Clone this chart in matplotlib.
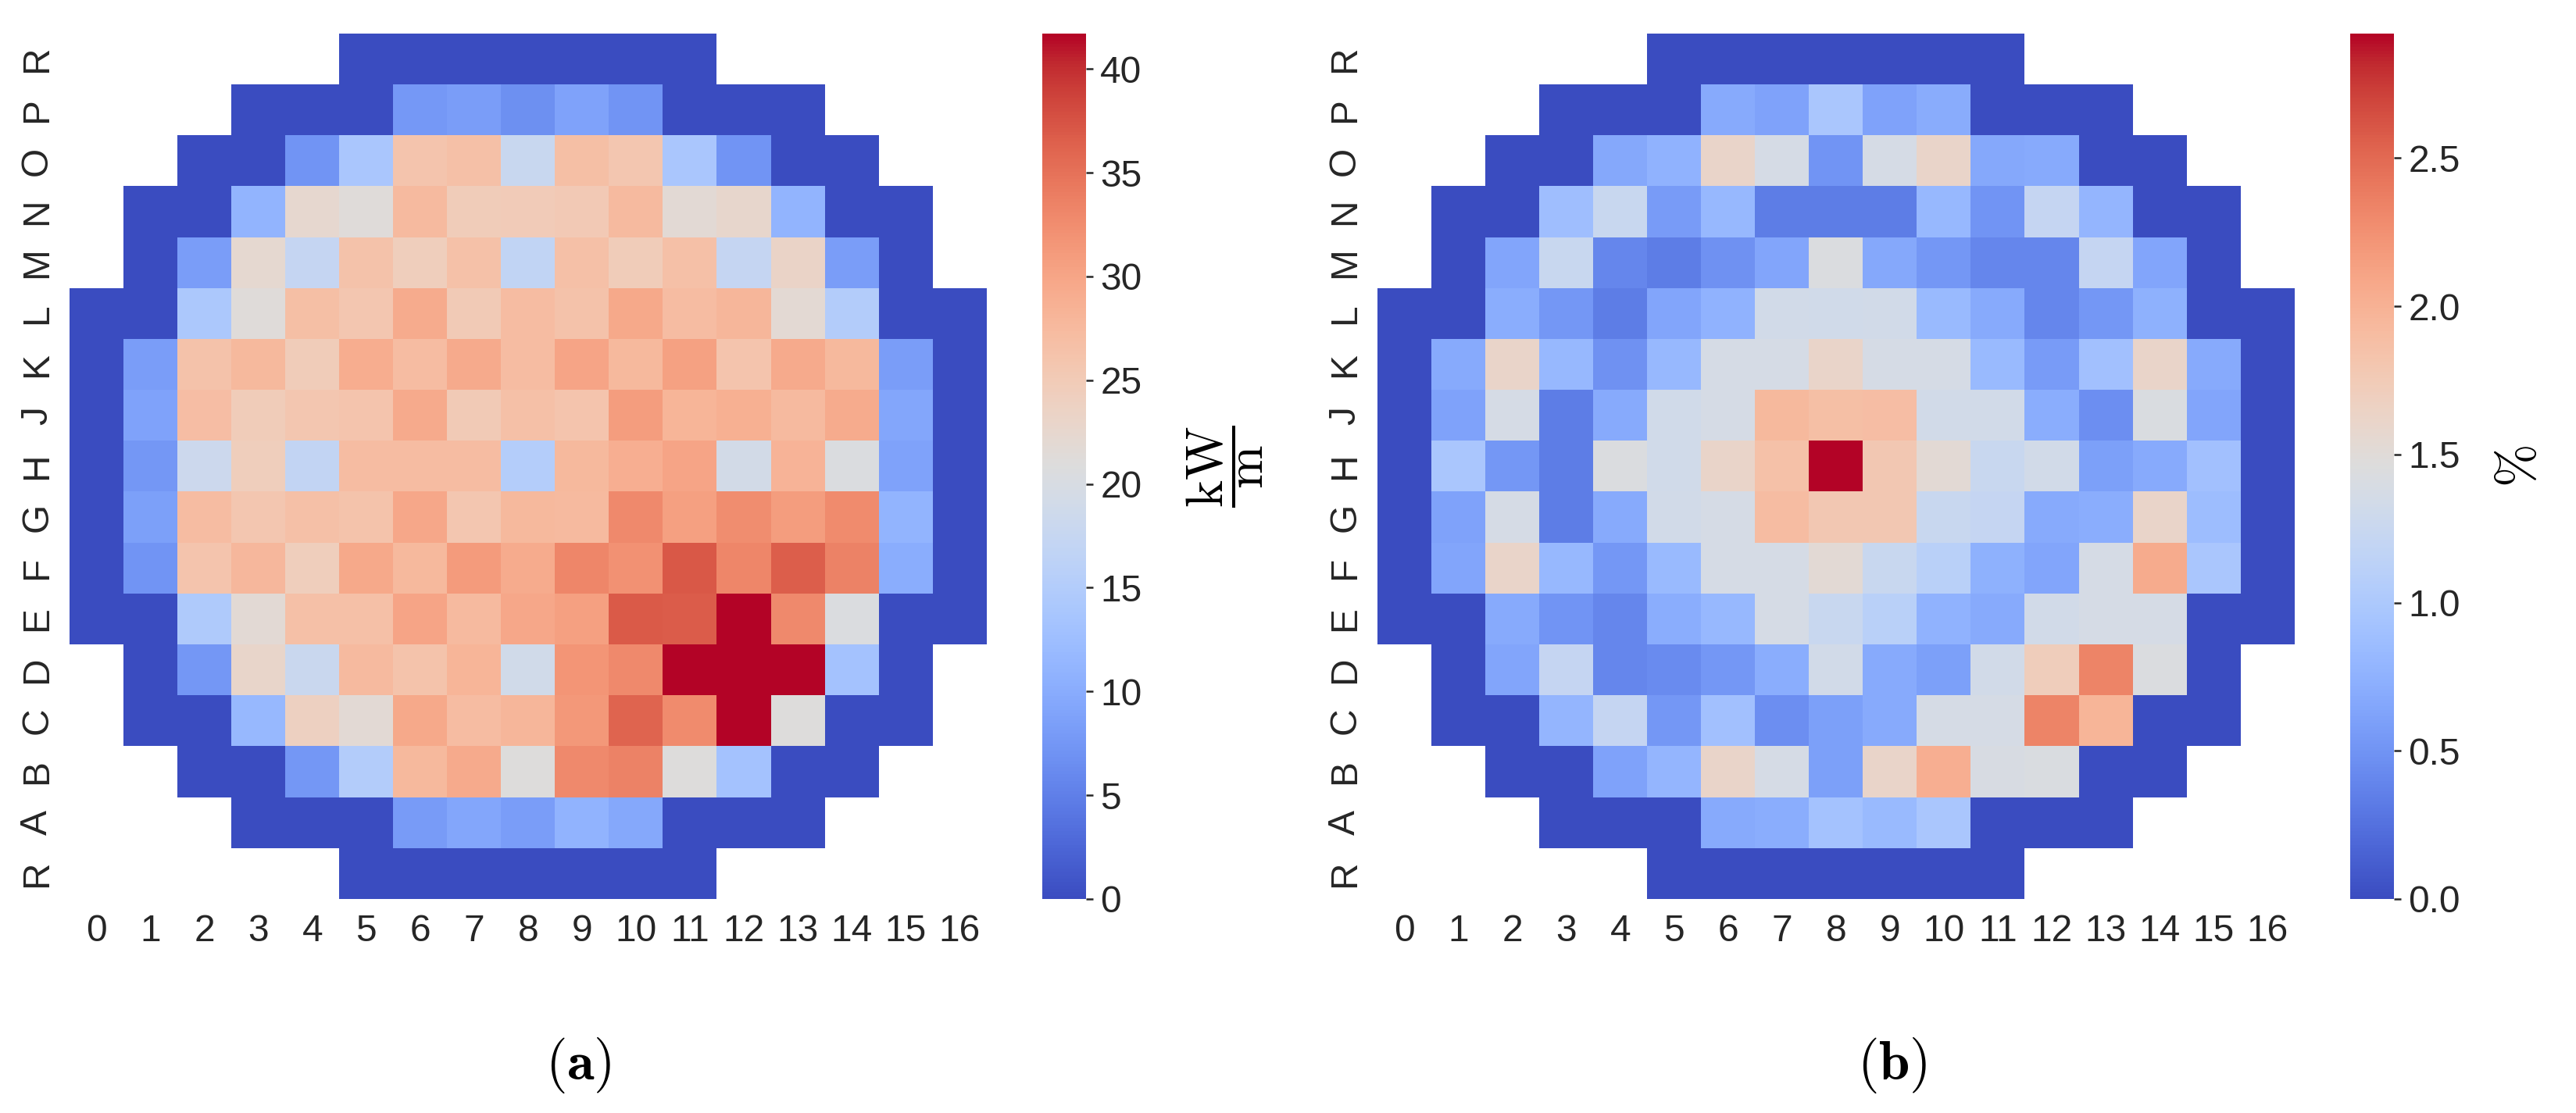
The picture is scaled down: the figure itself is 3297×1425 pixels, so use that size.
import numpy as np
import matplotlib
matplotlib.use("Agg")
import matplotlib.pyplot as plt

plt.rcParams['font.family'] = ['Liberation Sans', 'DejaVu Sans']
plt.rcParams['mathtext.fontset'] = 'cm'

n = np.nan

# assembly labels
col_labels = [str(i) for i in range(17)]
row_labels = ['R', 'P', 'O', 'N', 'M', 'L', 'K', 'J', 'H', 'G', 'F', 'E', 'D', 'C', 'B', 'A', 'R']

# (a) linear power, kW/m
power = [
    [n, n, n, n, n, 0, 0, 0, 0, 0, 0, 0, n, n, n, n, n],
    [n, n, n, 0, 0, 0, 7.8, 8.3, 6.8, 8.8, 7.3, 0, 0, 0, n, n, n],
    [n, n, 0, 0, 7.3, 14.0, 25.9, 26.6, 17.9, 26.8, 25.7, 14.0, 7.3, 0, 0, n, n],
    [n, 0, 0, 11.2, 22.4, 21.3, 27.5, 24.6, 24.8, 25.2, 27.5, 21.7, 22.7, 11.2, 0, 0, n],
    [n, 0, 8.3, 22.2, 17.3, 26.3, 24.3, 26.5, 16.8, 26.6, 24.6, 26.7, 17.3, 23.2, 8.3, 0, n],
    [0, 0, 14.2, 21.3, 26.8, 25.6, 29.3, 25.0, 27.2, 26.3, 29.5, 27.2, 27.9, 21.9, 15.0, 0, 0],
    [0, 8.3, 26.3, 27.6, 24.6, 29.1, 27.2, 29.4, 27.2, 30.1, 27.6, 30.3, 25.9, 29.4, 27.6, 8.3, 0],
    [0, 8.8, 27.0, 24.6, 25.6, 25.9, 29.4, 25.0, 26.7, 25.9, 30.8, 28.1, 28.7, 27.5, 29.3, 9.4, 0],
    [0, 7.6, 18.3, 24.3, 17.1, 27.2, 27.2, 27.2, 15.3, 27.6, 28.9, 30.1, 19.3, 28.2, 20.4, 8.8, 0],
    [0, 8.6, 27.2, 25.6, 26.7, 26.1, 29.7, 25.6, 27.6, 27.5, 32.9, 30.5, 32.5, 30.8, 32.6, 11.2, 0],
    [0, 7.3, 25.9, 27.8, 24.3, 29.6, 27.6, 31.0, 29.3, 33.1, 32.0, 37.1, 33.2, 36.5, 33.5, 10.2, 0],
    [0, 0, 14.5, 21.7, 26.6, 26.7, 30.1, 27.5, 29.7, 30.6, 36.9, 36.7, 41.7, 32.9, 20.4, 0, 0],
    [n, 0, 7.5, 22.9, 18.0, 27.5, 26.1, 28.1, 19.0, 31.7, 32.9, 41.7, 41.7, 41.7, 13.3, 0, n],
    [n, 0, 0, 11.7, 23.8, 21.8, 29.6, 27.2, 28.0, 31.3, 36.0, 32.7, 41.7, 20.9, 0, 0, n],
    [n, n, 0, 0, 7.5, 15.0, 27.6, 29.4, 20.9, 32.9, 33.5, 20.9, 13.3, 0, 0, n, n],
    [n, n, n, 0, 0, 0, 8.1, 9.3, 8.3, 11.0, 9.6, 0, 0, 0, n, n, n],
    [n, n, n, n, n, 0, 0, 0, 0, 0, 0, 0, n, n, n, n, n],
]

# (b) relative deviation, %
error = [
    [n, n, n, n, n, 0, 0, 0, 0, 0, 0, 0, n, n, n, n, n],
    [n, n, n, 0, 0, 0, 0.69, 0.62, 0.97, 0.62, 0.70, 0, 0, 0, n, n, n],
    [n, n, 0, 0, 0.67, 0.76, 1.61, 1.38, 0.51, 1.38, 1.61, 0.67, 0.69, 0, 0, n, n],
    [n, 0, 0, 0.88, 1.25, 0.57, 0.82, 0.34, 0.34, 0.34, 0.82, 0.51, 1.22, 0.79, 0, 0, n],
    [n, 0, 0.65, 1.25, 0.41, 0.34, 0.48, 0.65, 1.43, 0.67, 0.53, 0.41, 0.41, 1.22, 0.65, 0, n],
    [0, 0, 0.71, 0.53, 0.34, 0.65, 0.76, 1.34, 1.33, 1.34, 0.84, 0.69, 0.41, 0.53, 0.75, 0, 0],
    [0, 0.69, 1.61, 0.82, 0.49, 0.82, 1.38, 1.38, 1.61, 1.38, 1.38, 0.84, 0.57, 0.91, 1.61, 0.69, 0],
    [0, 0.62, 1.38, 0.34, 0.69, 1.33, 1.38, 1.93, 1.88, 1.89, 1.34, 1.34, 0.71, 0.46, 1.42, 0.65, 0],
    [0, 0.98, 0.53, 0.34, 1.43, 1.33, 1.61, 1.85, 2.92, 1.78, 1.52, 1.25, 1.34, 0.60, 0.69, 0.91, 0],
    [0, 0.62, 1.38, 0.34, 0.69, 1.34, 1.38, 1.90, 1.78, 1.78, 1.25, 1.22, 0.69, 0.71, 1.61, 0.87, 0],
    [0, 0.65, 1.61, 0.82, 0.53, 0.84, 1.38, 1.38, 1.52, 1.25, 1.11, 0.75, 0.65, 1.38, 2.05, 0.98, 0],
    [0, 0, 0.69, 0.51, 0.41, 0.71, 0.82, 1.38, 1.25, 1.11, 0.76, 0.69, 1.34, 1.38, 1.38, 0, 0],
    [n, 0, 0.65, 1.22, 0.41, 0.44, 0.53, 0.71, 1.34, 0.69, 0.60, 1.34, 1.72, 2.33, 1.43, 0, n],
    [n, 0, 0, 0.79, 1.22, 0.53, 0.91, 0.46, 0.60, 0.69, 1.38, 1.38, 2.33, 1.97, 0, 0, n],
    [n, n, 0, 0, 0.62, 0.79, 1.61, 1.38, 0.60, 1.61, 2.02, 1.40, 1.42, 0, 0, n, n],
    [n, n, n, 0, 0, 0, 0.69, 0.71, 0.93, 0.84, 0.98, 0, 0, 0, n, n, n],
    [n, n, n, n, n, 0, 0, 0, 0, 0, 0, 0, n, n, n, n, n],
]

W, H = 3297, 1425
fig = plt.figure(figsize=(W / 300, H / 300), dpi=300)

panels = [
    (power, r'$\dfrac{\mathrm{kW}}{\mathrm{m}}$', 16, np.arange(0, 45, 5), '{:.0f}', 89, 1334, 740, 'a', 13),
    (error, r'$\%$', 16, np.arange(0, 3.0, 0.5), '{:.1f}', 1763, 3008, 2422, 'b', 11),
]

for data, unit, usize, ticks, fmt, x0, cx0, capx, letter, lpad in panels:
    arr = np.ma.masked_invalid(np.array(data, dtype=float))
    ax = fig.add_axes([x0 / W, 1 - 1151 / H, 1174 / W, 1108 / H])
    im = ax.imshow(arr, cmap='coolwarm', vmin=0, vmax=np.nanmax(arr),
                   interpolation='nearest', aspect='auto',
                   extent=(-0.5, 16.5, 16.5, -0.5))
    ax.set_xticks(range(17))
    ax.set_xticklabels(col_labels)
    ax.set_yticks(range(17))
    ax.set_yticklabels(row_labels, rotation=90, va='center')
    ax.tick_params(length=0, labelsize=11.5, pad=4.5, colors='#262626')
    for s in ax.spines.values():
        s.set_visible(False)

    cax = fig.add_axes([cx0 / W, 1 - 1151 / H, 56 / W, 1108 / H])
    cb = fig.colorbar(im, cax=cax, ticks=ticks)
    cb.outline.set_visible(False)
    cb.ax.set_yticklabels([fmt.format(t) for t in ticks])
    cb.ax.tick_params(length=2.2, width=0.6, labelsize=11.5, pad=2.2,
                      colors='#262626')
    cb.set_label(unit, fontsize=usize, labelpad=lpad)

    fig.text(capx / W, 1 - 1364 / H, r'$(\mathbf{' + letter + r'})$',
             fontsize=17, ha='center', va='center')

fig.savefig('out.png', dpi=300)
